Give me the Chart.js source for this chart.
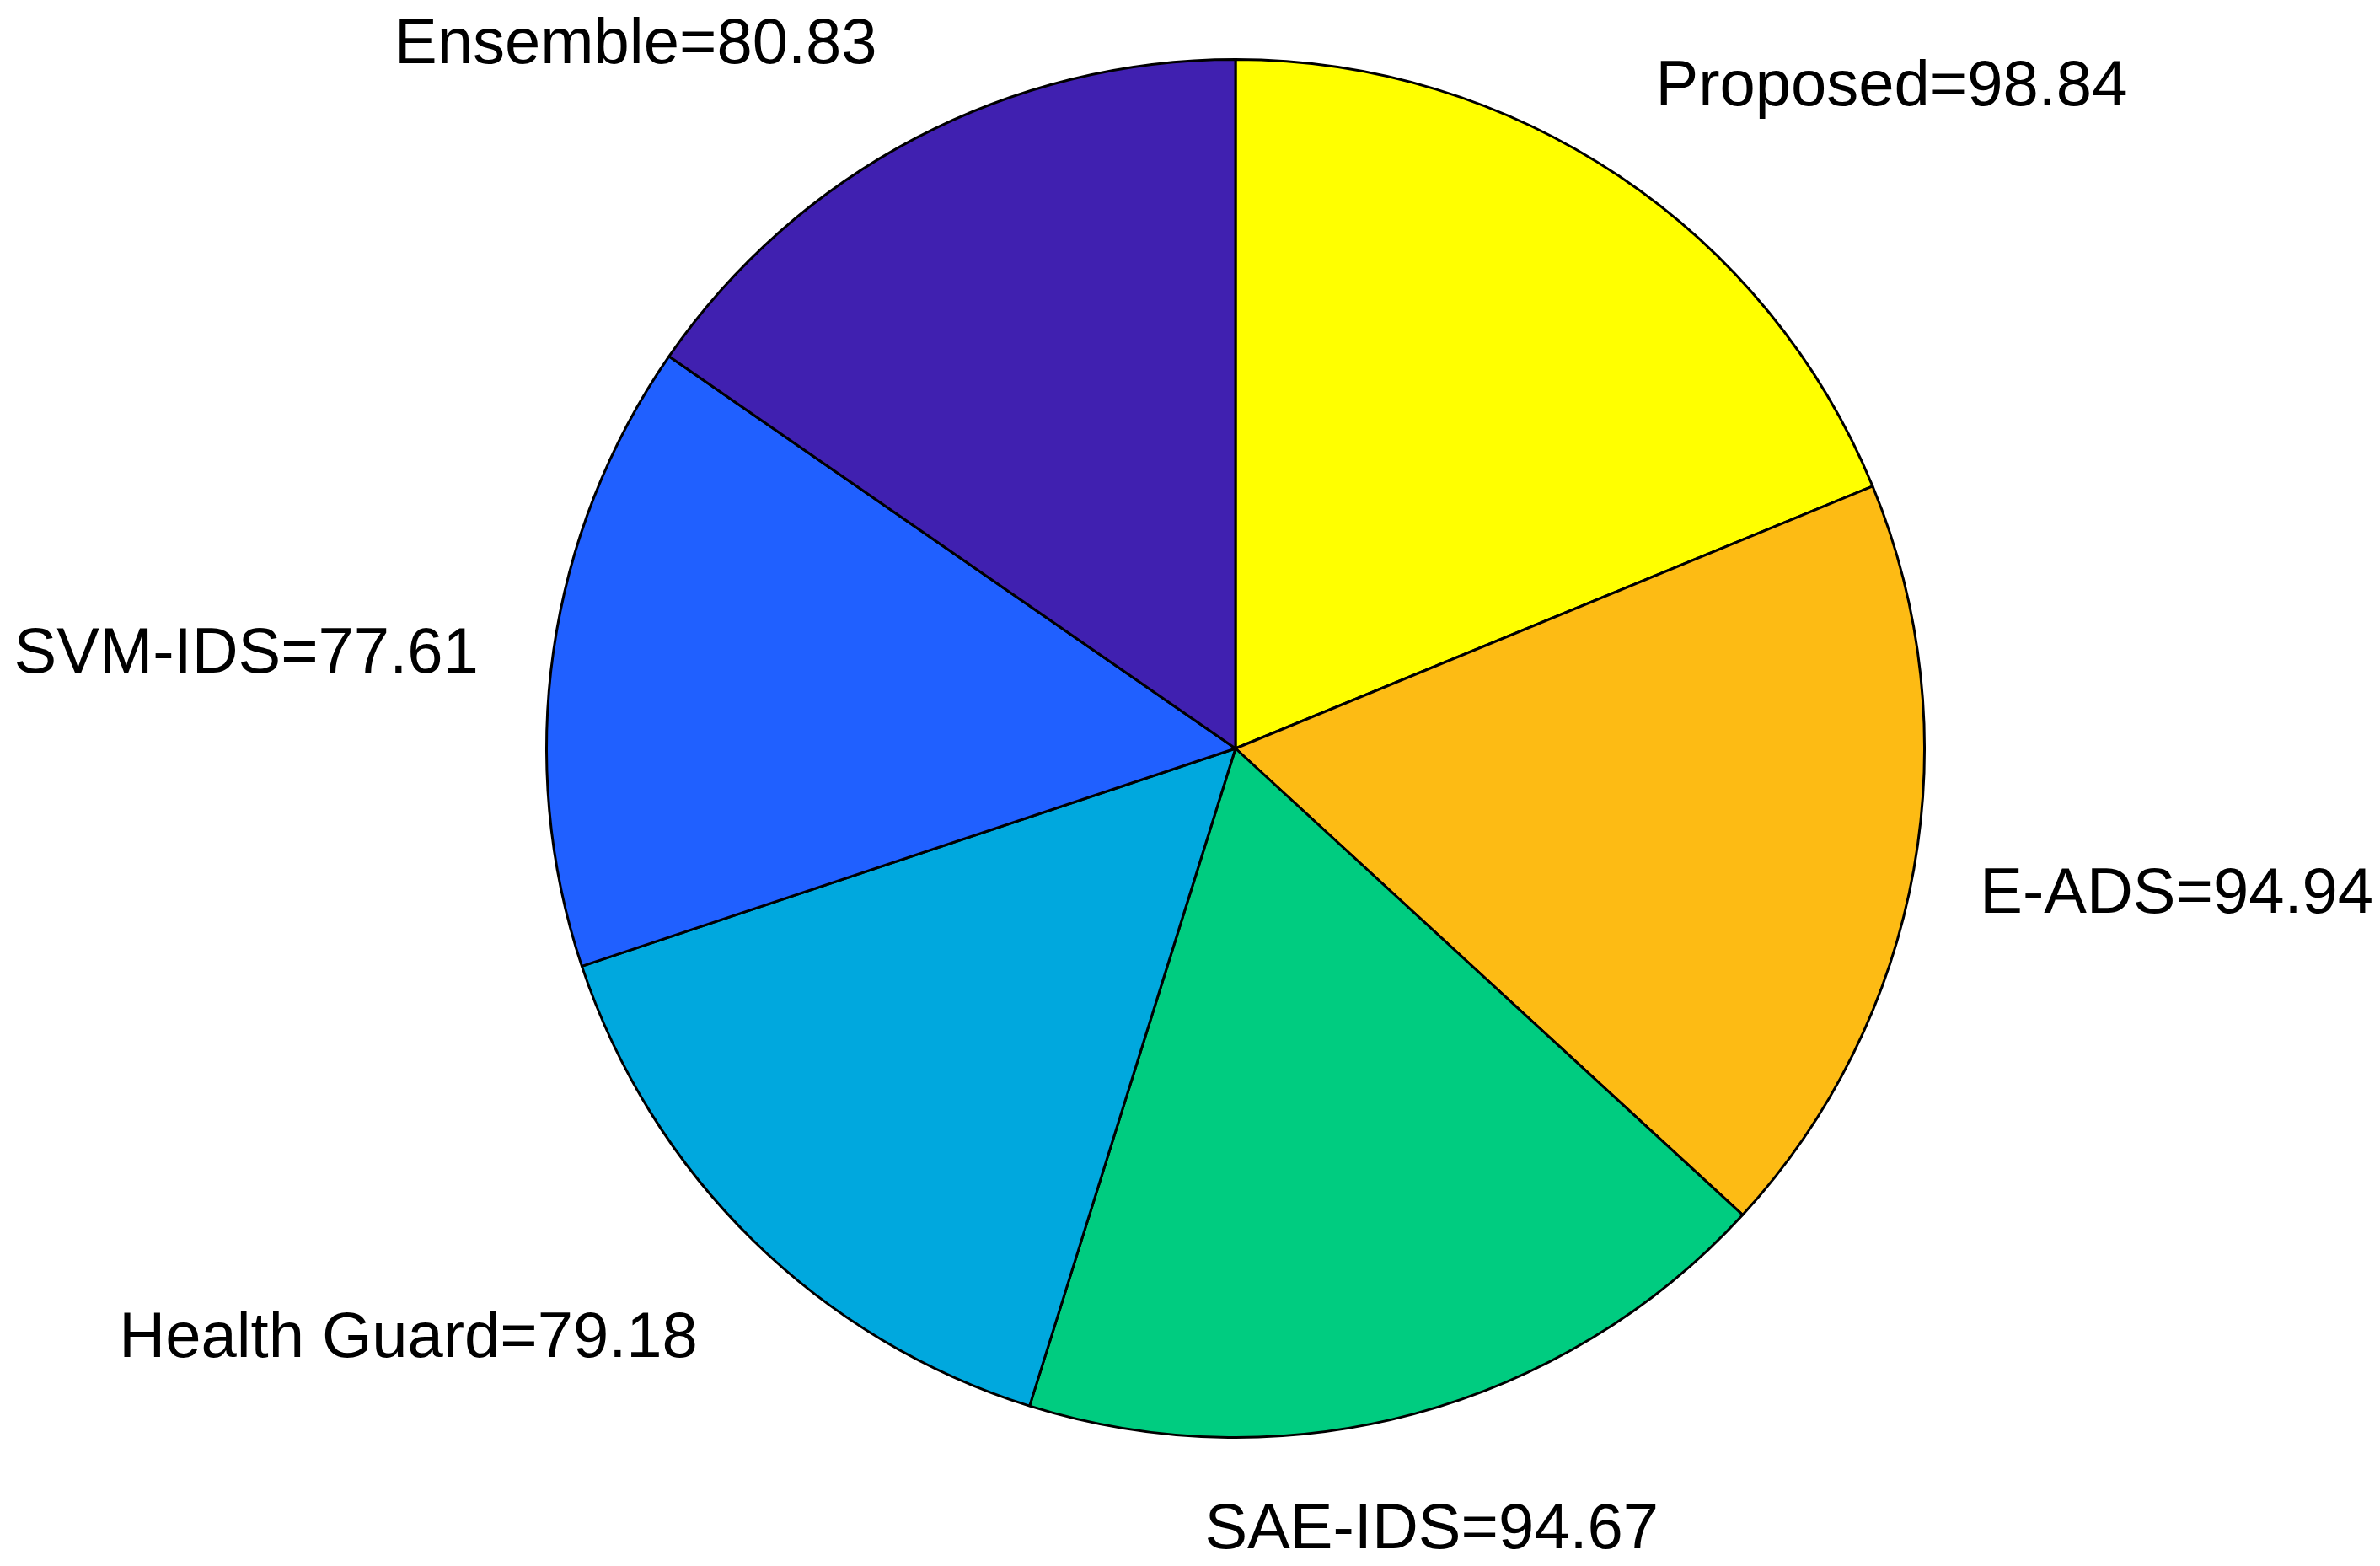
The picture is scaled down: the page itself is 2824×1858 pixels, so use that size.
<!DOCTYPE html>
<html>
<head>
<meta charset="utf-8">
<script src="https://cdn.jsdelivr.net/npm/chart.js@4/dist/chart.umd.min.js"></script>
<style>
html,body{margin:0;padding:0;background:#fff;}
#wrap{width:2824px;height:1858px;position:relative;}
</style>
</head>
<body>
<div id="wrap"><canvas id="c" width="2824" height="1858"></canvas></div>
<script>
const categories = ["Proposed", "E-ADS", "SAE-IDS", "Health Guard", "SVM-IDS", "Ensemble"];
const values = [98.84, 94.94, 94.67, 79.18, 77.61, 80.83];
const colors = ["#FFFF00", "#FDBB14", "#00CC80", "#00A8DE", "#2060FF", "#4020B0"];

const labelPlugin = {
  id: 'outerLabels',
  afterDatasetsDraw(chart) {
    const ctx = chart.ctx;
    const meta = chart.getDatasetMeta(0);
    ctx.save();
    ctx.font = '76px "Liberation Sans", Arial, sans-serif';
    ctx.fillStyle = '#000';
    meta.data.forEach((arc, i) => {
      const mid = (arc.startAngle + arc.endAngle) / 2;
      const r = arc.outerRadius * 1.1;
      const dx = Math.cos(mid), dy = Math.sin(mid);
      let x = arc.x + r * dx;
      const y = arc.y + r * dy;
      let align = 'center';
      if (dx > 0.3) { align = 'left'; x -= 2; }
      else if (dx < -0.3) { align = 'right'; x -= 8; }
      let by;
      if (dy < -0.5) by = y - 16;
      else if (dy > 0.5) by = y + 80;
      else by = y + 37;
      ctx.textAlign = align;
      ctx.textBaseline = 'alphabetic';
      ctx.fillText(categories[i] + '=' + values[i].toFixed(2), x, by);
    });
    ctx.restore();
  }
};

new Chart(document.getElementById('c'), {
  type: 'pie',
  data: {
    labels: categories,
    datasets: [{
      data: values,
      backgroundColor: colors,
      borderColor: '#000',
      borderWidth: 3,
      hoverOffset: 0
    }]
  },
  options: {
    responsive: false,
    animation: false,
    events: [],
    layout: { padding: { top: 69, bottom: 151, left: 108, right: 0 } },
    plugins: {
      legend: { display: false },
      tooltip: { enabled: false },
      title: { display: false }
    }
  },
  plugins: [labelPlugin]
});
</script>
</body>
</html>
